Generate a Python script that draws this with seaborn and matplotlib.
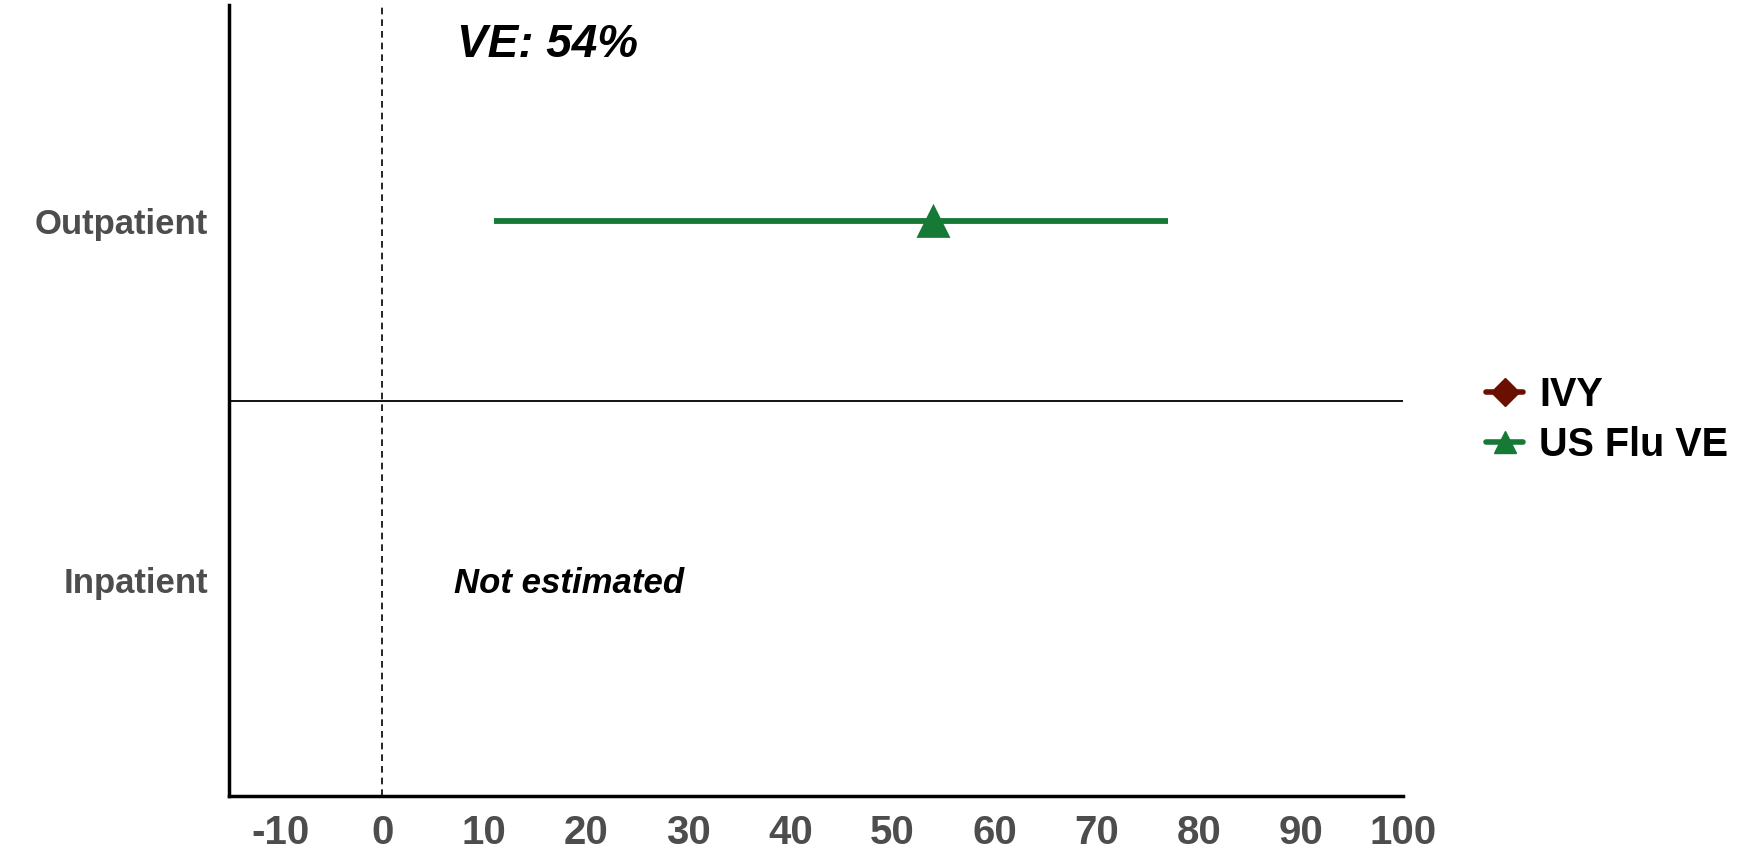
import numpy as np
import pandas as pd
import matplotlib
matplotlib.use("Agg")
import matplotlib.pyplot as plt
import seaborn as sns
from matplotlib.lines import Line2D

# data
settings = ["Outpatient", "Inpatient"]
setting_pos = [2, 1]
studies = ["IVY", "US Flu VE"]
ve = [54.0]
ve_lo = [11.0]
ve_hi = [77.0]
ve_setting = ["Outpatient"]
ve_study = ["US Flu VE"]
x_ticks = list(range(-10, 101, 10))

colors = {"IVY": "#6B1000", "US Flu VE": "#157A35"}
markers = {"IVY": "D", "US Flu VE": "^"}

df = pd.DataFrame({
    "study": ve_study,
    "setting": ve_setting,
    "ve": ve,
    "lo": ve_lo,
    "hi": ve_hi,
})
df["y"] = df["setting"].map(dict(zip(settings, setting_pos)))

sns.set_theme(style="white")
plt.rcParams["font.family"] = ["Liberation Sans", "DejaVu Sans"]
plt.rcParams["text.color"] = "black"

fig = plt.figure(figsize=(17.43, 8.6), dpi=100)
ax = fig.add_axes([0.1314, 0.0744, 0.6736, 0.9196])

# confidence intervals
for _, r in df.iterrows():
    ax.hlines(r["y"], r["lo"], r["hi"], color=colors[r["study"]], lw=4.2, zorder=2)

sns.scatterplot(data=df, x="ve", y="y", hue="study", style="study",
                palette=colors, markers=markers, s=600, edgecolor="none",
                legend=False, ax=ax, zorder=3)

ax.axvline(0, color="black", ls=(0, (4, 3)), lw=1.2, zorder=1)
ax.axhline(1.5, color="black", lw=1.3, zorder=1)

ax.text(7.3, 2.49, "VE: 54%", fontsize=33, fontweight="bold", fontstyle="italic",
        va="center", ha="left", color="black")
ax.text(7.0, 0.99, "Not estimated", fontsize=25, fontweight="bold", fontstyle="italic",
        va="center", ha="left", color="black")

ax.set_xlim(-15, 100)
ax.set_ylim(0.4, 2.6)
ax.set_xticks(x_ticks)
ax.set_xticklabels([str(t) for t in x_ticks])
ax.set_yticks(setting_pos)
ax.set_yticklabels(settings)
ax.set_xlabel("")
ax.set_ylabel("")

for side in ["top", "right"]:
    ax.spines[side].set_visible(False)
for side in ["left", "bottom"]:
    ax.spines[side].set_color("black")
    ax.spines[side].set_linewidth(2.5)

ax.tick_params(axis="both", which="major", direction="out", length=7, width=2.5,
               color="#333333", labelcolor="#4D4D4D")
ax.tick_params(axis="x", labelsize=29, pad=6)
ax.tick_params(axis="y", labelsize=25, pad=8)
for lab in ax.get_xticklabels() + ax.get_yticklabels():
    lab.set_fontweight("bold")

handles = [Line2D([0], [0], color=colors[s], lw=4, marker=markers[s],
                  markersize=16 if s == "US Flu VE" else 14, label=s)
           for s in studies]
leg = fig.legend(handles=handles, loc="center left", bbox_to_anchor=(0.832, 0.512),
                 frameon=False, fontsize=28.5, handlelength=0.95, handletextpad=0.4,
                 labelspacing=0.3)
for t in leg.get_texts():
    t.set_fontweight("bold")
    t.set_color("black")

fig.savefig("out.png", dpi=100)
